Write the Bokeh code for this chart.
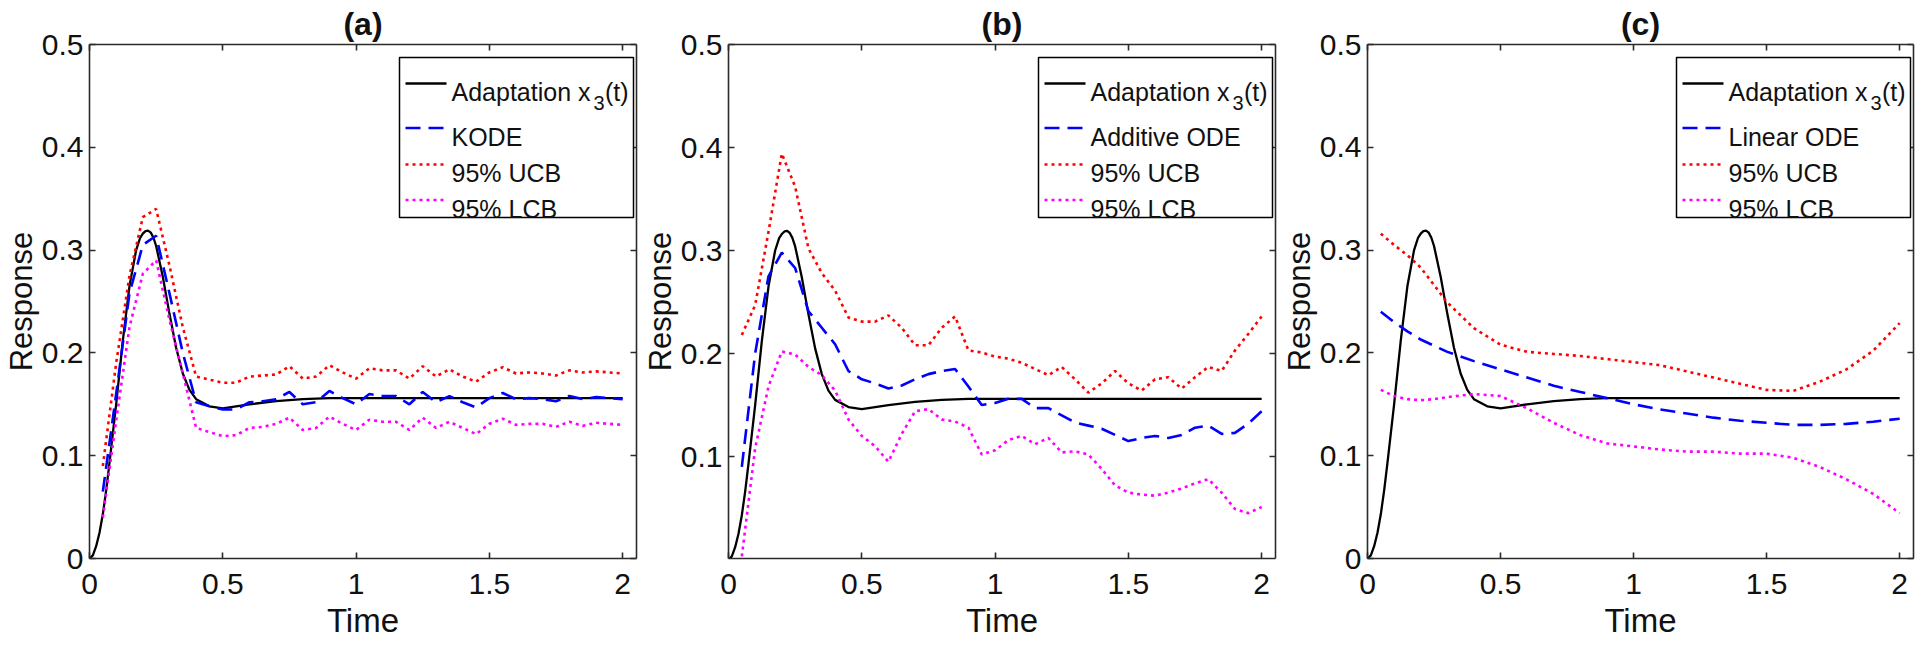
import math
from bokeh.plotting import figure
from bokeh.models import (Range1d, LinearAxis, FixedTicker, PrintfTickFormatter, Label,
                          BoxAnnotation, Arrow)
from bokeh.layouts import row
from bokeh.embed import file_html
from bokeh.resources import INLINE

# ---------------- data ----------------
# true adaptation response x3(t)
t_true = [0, 0.0125, 0.025, 0.0375, 0.05, 0.0625, 0.075, 0.1, 0.125, 0.15, 0.175, 0.19, 0.2,
          0.21, 0.22, 0.23, 0.24, 0.25, 0.275, 0.3, 0.325, 0.35, 0.375, 0.4, 0.45, 0.5,
          0.55, 0.6, 0.7, 0.8, 0.9, 1.0, 1.2, 1.4, 1.6, 1.8, 2.0]
x3_true = [0, 0.003, 0.012, 0.025, 0.043, 0.066, 0.093, 0.150, 0.212, 0.265, 0.300, 0.312, 0.316,
           0.3185, 0.319, 0.317, 0.312, 0.304, 0.274, 0.238, 0.205, 0.180, 0.164, 0.155, 0.148, 0.146,
           0.148, 0.150, 0.153, 0.155, 0.156, 0.156, 0.156, 0.156, 0.156, 0.156, 0.156]

# time grid of the estimated curves in panels (a) and (b)
t_grid = [0.05, 0.10, 0.15, 0.20, 0.25, 0.30, 0.35, 0.40, 0.45, 0.50,
          0.55, 0.60, 0.65, 0.70, 0.75, 0.80, 0.85, 0.90, 0.95, 1.00,
          1.05, 1.10, 1.15, 1.20, 1.25, 1.30, 1.35, 1.40, 1.45, 1.50,
          1.55, 1.60, 1.65, 1.70, 1.75, 1.80, 1.85, 1.90, 1.95, 2.00]

# panel (a): KODE
kode_a = [0.065, 0.160, 0.258, 0.305, 0.314, 0.258, 0.200, 0.152, 0.148, 0.145,
          0.145, 0.152, 0.153, 0.155, 0.162, 0.150, 0.152, 0.163, 0.156, 0.150,
          0.160, 0.158, 0.158, 0.150, 0.162, 0.152, 0.158, 0.152, 0.147, 0.156,
          0.161, 0.155, 0.156, 0.155, 0.153, 0.158, 0.155, 0.157, 0.156, 0.155]
ucb_a = [0.090, 0.190, 0.275, 0.332, 0.340, 0.285, 0.225, 0.177, 0.174, 0.171,
         0.171, 0.177, 0.178, 0.179, 0.187, 0.175, 0.177, 0.188, 0.181, 0.175,
         0.185, 0.183, 0.183, 0.175, 0.187, 0.177, 0.184, 0.177, 0.172, 0.181,
         0.186, 0.180, 0.181, 0.180, 0.178, 0.183, 0.181, 0.182, 0.181, 0.180]
lcb_a = [0.040, 0.134, 0.225, 0.277, 0.290, 0.232, 0.180, 0.127, 0.123, 0.119,
         0.120, 0.127, 0.128, 0.131, 0.137, 0.125, 0.127, 0.138, 0.131, 0.125,
         0.135, 0.133, 0.133, 0.125, 0.137, 0.127, 0.133, 0.127, 0.121, 0.131,
         0.136, 0.130, 0.131, 0.131, 0.128, 0.133, 0.129, 0.132, 0.131, 0.130]

# panel (b): Additive ODE
add_b = [0.090, 0.200, 0.275, 0.298, 0.283, 0.241, 0.225, 0.209, 0.183, 0.175,
         0.171, 0.166, 0.169, 0.175, 0.180, 0.183, 0.185, 0.168, 0.150, 0.152,
         0.156, 0.156, 0.147, 0.147, 0.140, 0.133, 0.130, 0.127, 0.121, 0.115,
         0.118, 0.120, 0.118, 0.121, 0.128, 0.130, 0.122, 0.123, 0.132, 0.144]
ucb_b = [0.218, 0.247, 0.318, 0.394, 0.362, 0.302, 0.278, 0.261, 0.235, 0.231,
         0.231, 0.237, 0.225, 0.208, 0.208, 0.225, 0.236, 0.203, 0.201, 0.197,
         0.195, 0.191, 0.185, 0.179, 0.187, 0.175, 0.162, 0.171, 0.183, 0.171,
         0.164, 0.175, 0.177, 0.166, 0.177, 0.187, 0.183, 0.203, 0.219, 0.236]
lcb_b = [0.003, 0.108, 0.168, 0.202, 0.199, 0.187, 0.179, 0.164, 0.136, 0.120,
         0.110, 0.095, 0.122, 0.144, 0.146, 0.136, 0.134, 0.128, 0.102, 0.106,
         0.116, 0.120, 0.112, 0.118, 0.104, 0.105, 0.102, 0.088, 0.072, 0.065,
         0.063, 0.062, 0.065, 0.069, 0.074, 0.078, 0.065, 0.049, 0.045, 0.051]

# panel (c): Linear ODE
t_c = [0.05, 0.10, 0.15, 0.20, 0.25, 0.30, 0.40, 0.50, 0.60, 0.70, 0.80, 0.90,
       1.00, 1.10, 1.20, 1.30, 1.40, 1.50, 1.60, 1.70, 1.80, 1.90, 2.00]
lin_c = [0.240, 0.230, 0.221, 0.213, 0.207, 0.201, 0.192, 0.184, 0.176, 0.168, 0.162, 0.156,
         0.150, 0.145, 0.141, 0.137, 0.134, 0.132, 0.130, 0.130, 0.131, 0.133, 0.136]
ucb_c = [0.316, 0.305, 0.295, 0.283, 0.266, 0.249, 0.224, 0.208, 0.201, 0.199, 0.197, 0.194,
         0.191, 0.188, 0.182, 0.176, 0.170, 0.164, 0.163, 0.172, 0.184, 0.202, 0.229]
lcb_c = [0.164, 0.158, 0.155, 0.154, 0.155, 0.157, 0.160, 0.158, 0.146, 0.132, 0.120, 0.112,
         0.109, 0.106, 0.104, 0.104, 0.102, 0.102, 0.098, 0.089, 0.077, 0.063, 0.044]

panel_titles = ["(a)", "(b)", "(c)"]
model_names = ["KODE", "Additive ODE", "Linear ODE"]
true_label_main = "Adaptation x"
true_label_sub = "3"
true_label_tail = "(t)"
ucb_label = "95% UCB"
lcb_label = "95% LCB"
x_label = "Time"
y_label = "Response"
xtick_vals = [0, 0.5, 1, 1.5, 2]
xtick_labels = ["0", "0.5", "1", "1.5", "2"]
ytick_vals = [0, 0.1, 0.2, 0.3, 0.4, 0.5]
ytick_labels = ["0", "0.1", "0.2", "0.3", "0.4", "0.5"]

# ---------------- style ----------------
FONT = "Liberation Sans"
AXC = "#2b2b2b"
TXT = "#111111"
FH = 514
FIG_H = 651
BLUE, RED, MAG = "#0000FF", "#FF0000", "#FF00FF"


def style_axis(ax):
    ax.axis_line_color = AXC
    ax.axis_line_width = 1.6
    ax.major_tick_line_color = AXC
    ax.major_tick_line_width = 1.6
    ax.major_tick_in = 6
    ax.major_tick_out = 0
    ax.minor_tick_line_color = AXC
    ax.minor_tick_line_width = 1.6
    ax.minor_tick_in = 6
    ax.minor_tick_out = 0
    ax.major_label_text_font = FONT
    ax.major_label_text_font_size = "30px"
    ax.major_label_text_color = TXT
    ax.axis_label_text_font = FONT
    ax.axis_label_text_font_size = "33px"
    ax.axis_label_text_font_style = "normal"
    ax.axis_label_text_color = TXT


def make_panel(idx, t_m, y_m, t_band, ucb, lcb, y_start, width, border_right, frame_w):
    p = figure(width=width, height=FIG_H, x_range=Range1d(0, 2.052), y_range=Range1d(y_start, 0.5),
               toolbar_location=None, output_backend="svg", title=panel_titles[idx],
               min_border_left=86, min_border_right=border_right, min_border_top=44,
               min_border_bottom=93, x_axis_location=None, y_axis_location=None)
    p.outline_line_color = None
    p.background_fill_color = "white"
    p.border_fill_color = "white"
    p.title.align = "center"
    p.title.text_font = FONT
    p.title.text_font_size = "32px"
    p.title.text_font_style = "bold"
    p.title.text_color = TXT
    p.title.standoff = 6

    # bottom axis: ticks + labels + axis label
    xb = LinearAxis(ticker=FixedTicker(ticks=xtick_vals), formatter=PrintfTickFormatter(format="%g"),
                    major_label_overrides=dict(zip(xtick_vals, xtick_labels)), axis_label=x_label)
    style_axis(xb)
    xb.major_label_standoff = 15
    xb.axis_label_standoff = 5
    p.add_layout(xb, "below")
    # left axis
    yl = LinearAxis(ticker=FixedTicker(ticks=ytick_vals), formatter=PrintfTickFormatter(format="%g"),
                    major_label_overrides=dict(zip(ytick_vals, ytick_labels)), axis_label=y_label)
    style_axis(yl)
    yl.axis_label_text_font_size = "31px"
    yl.axis_label_text_line_height = 1.0
    yl.major_label_standoff = 6
    yl.axis_label_standoff = 0
    p.add_layout(yl, "left")
    # box: top and right edges with inward ticks only (no labels)
    xt = LinearAxis(ticker=FixedTicker(ticks=[], minor_ticks=xtick_vals))
    style_axis(xt)
    xt.major_label_standoff = 0
    p.add_layout(xt, "above")
    yr = LinearAxis(ticker=FixedTicker(ticks=[], minor_ticks=ytick_vals))
    style_axis(yr)
    yr.major_label_standoff = 0
    p.add_layout(yr, "right")
    p.grid.grid_line_color = None

    p.line(t_true, x3_true, line_color="black", line_width=2.3)
    p.line(t_m, y_m, line_color=BLUE, line_width=2.6, line_dash="15 8")
    p.line(t_band, ucb, line_color=RED, line_width=2.6, line_dash="3 4")
    p.line(t_band, lcb, line_color=MAG, line_width=2.6, line_dash="3 4")

    # legend (northeast), in screen units relative to the frame
    bl, br = frame_w - 240, frame_w - 6
    bt, bb = FH - 13, FH - 173
    p.add_layout(BoxAnnotation(left=bl, right=br, top=bt, bottom=bb,
                               left_units="screen", right_units="screen",
                               top_units="screen", bottom_units="screen",
                               fill_color="white", fill_alpha=1.0,
                               line_color="black", line_width=1.5, line_alpha=1.0))
    rows_y = [FH - 39, FH - 83.5, FH - 120, FH - 155.5]
    styles = [("black", None, 2.3), (BLUE, "15 8", 2.6), (RED, "3 4", 2.6), (MAG, "3 4", 2.6)]
    lx0, lx1, tx = bl + 6, bl + 47, bl + 52
    for ry, (col, dash, lw) in zip(rows_y, styles):
        kw = dict(line_dash=dash) if dash else {}
        p.add_layout(Arrow(x_start=lx0, y_start=ry, x_end=lx1, y_end=ry, start_units="screen",
                           end_units="screen", start=None, end=None, line_color=col,
                           line_width=lw, **kw))
    fs = 25
    off = 0.358 * fs
    p.add_layout(Label(x=tx, y=rows_y[0] - off, x_units="screen", y_units="screen",
                       text=true_label_main, text_font=FONT, text_font_size=f"{fs}px",
                       text_color=TXT, text_baseline="alphabetic"))
    p.add_layout(Label(x=br - 5, y=rows_y[0] - off, x_units="screen", y_units="screen",
                       text=true_label_tail, text_font=FONT, text_font_size=f"{fs}px",
                       text_color=TXT, text_align="right", text_baseline="alphabetic"))
    p.add_layout(Label(x=br - 29, y=rows_y[0] - off - 11, x_units="screen", y_units="screen",
                       text=true_label_sub, text_font=FONT, text_font_size="20px",
                       text_color=TXT, text_align="right", text_baseline="alphabetic"))
    for ry, txt in zip(rows_y[1:], [model_names[idx], ucb_label, lcb_label]):
        p.add_layout(Label(x=tx, y=ry - off, x_units="screen", y_units="screen",
                           text=txt, text_font=FONT, text_font_size=f"{fs}px",
                           text_color=TXT, text_baseline="alphabetic"))
    return p


pa = make_panel(0, t_grid, kode_a, t_grid, ucb_a, lcb_a, 0.0, 639, 3, 550)
pb = make_panel(1, t_grid, add_b, t_grid, ucb_b, lcb_b, 0.001, 639, 3, 550)
pc = make_panel(2, t_c, lin_c, t_c, ucb_c, lcb_c, 0.0, 642, 7, 549)

layout = row(pa, pb, pc)
open("out.html", "w").write(file_html(layout, INLINE))
